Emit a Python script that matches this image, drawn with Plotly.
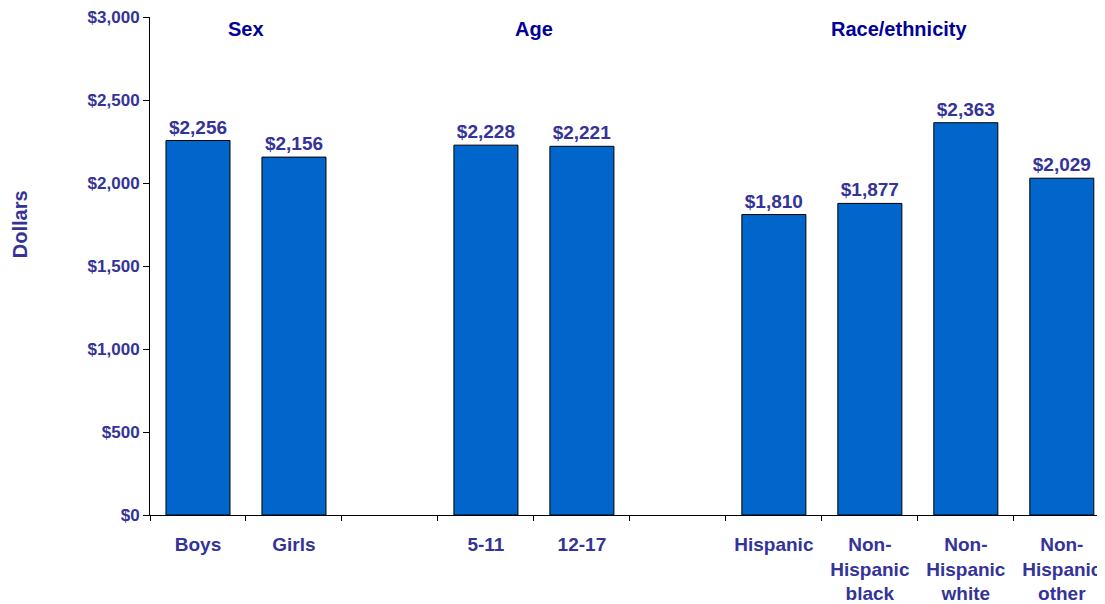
import plotly.graph_objects as go

categories = ["Boys", "Girls", " ", "5-11", "12-17", "  ",
              "Hispanic", "Non-<br>Hispanic<br>black", "Non-<br>Hispanic<br>white", "Non-<br>Hispanic<br>other"]
values = [2256, 2156, None, 2228, 2221, None, 1810, 1877, 2363, 2029]
labels = ["$2,256", "$2,156", "", "$2,228", "$2,221", "", "$1,810", "$1,877", "$2,363", "$2,029"]
group_names = ["Sex", "Age", "Race/ethnicity"]
group_pos = [0.5, 3.5, 7.3]
y_ticks = [0, 500, 1000, 1500, 2000, 2500, 3000]
y_tick_text = ["$0", "$500", "$1,000", "$1,500", "$2,000", "$2,500", "$3,000"]

LBL = "#333399"
HDR = "#000099"
FONT = "Liberation Sans, Arial, sans-serif"

fig = go.Figure(go.Bar(
    x=categories, y=values,
    text=["<b>%s</b>" % t if t else "" for t in labels], textposition="outside",
    textfont=dict(family=FONT, size=19, color=LBL),
    marker=dict(color="#0066CC", line=dict(color="#000000", width=1)),
    cliponaxis=False, hoverinfo="skip",
))

for name, pos in zip(group_names, group_pos):
    fig.add_annotation(x=pos, y=0.976, xref="x", yref="paper", text="<b>%s</b>" % name,
                       showarrow=False, font=dict(family=FONT, size=20, color=HDR),
                       xanchor="center", yanchor="middle")

fig.add_annotation(x=-130/955, y=0.584, xref="paper", yref="paper", text="<b>Dollars</b>",
                   textangle=-90, showarrow=False, font=dict(family=FONT, size=20, color=LBL),
                   xanchor="center", yanchor="middle")

fig.update_layout(
    width=1097, height=596,
    margin=dict(l=142, r=0, t=8, b=88),
    paper_bgcolor="white", plot_bgcolor="white",
    bargap=0.333, showlegend=False,
    font=dict(family=FONT, color=LBL),
)
fig.update_xaxes(
    type="category", categoryorder="array", categoryarray=categories,
    range=[-0.5, 9.45], tickson="boundaries", ticks="outside", ticklen=5,
    tickcolor="#000000", showline=True, linecolor="#000000", linewidth=1,
    tickfont=dict(family=FONT, size=19, color=LBL), showgrid=False,
    ticklabelstandoff=12, ticklabeloverflow="allow",
    tickvals=categories, ticktext=["<b>%s</b>" % c for c in categories],
)
fig.update_yaxes(
    range=[0, 3000], tickvals=y_ticks, ticktext=["<b>%s</b>" % t for t in y_tick_text],
    ticks="outside", ticklen=6, tickcolor="#000000", showline=True, linecolor="#000000",
    linewidth=1, showgrid=False, zeroline=False, ticklabeloverflow="allow",
    tickfont=dict(family=FONT, size=17, color=LBL),
)

fig.write_html("out.html")
